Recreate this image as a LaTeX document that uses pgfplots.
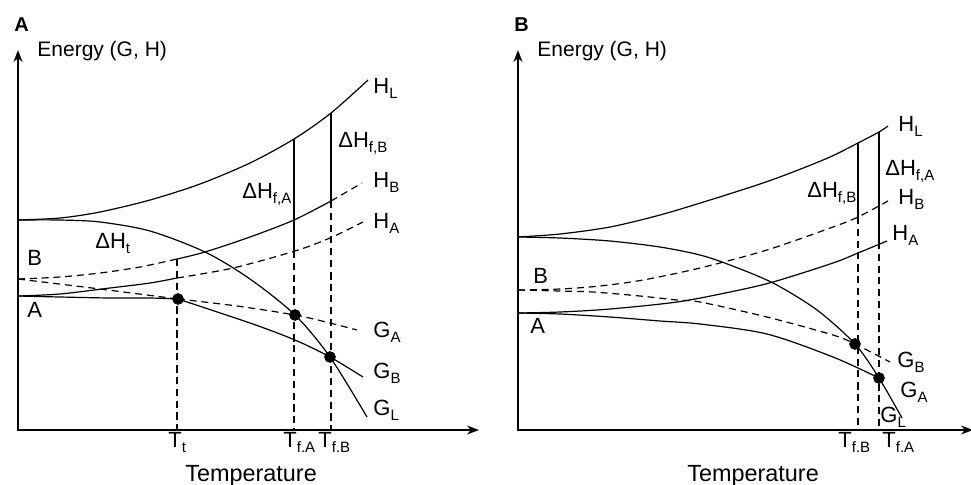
\documentclass[border=0pt]{standalone}
\usepackage{fontspec}
\setmainfont{Liberation Sans}
\usepackage{pgfplots}
\pgfplotsset{compat=1.18}
\usetikzlibrary{arrows.meta}
\newcommand{\sub}[1]{\raisebox{-0.45ex}{\fontsize{7.5}{8}\selectfont #1}}
\tikzset{lbl/.style={inner sep=0pt, anchor=base west}}
\begin{document}
\begin{tikzpicture}[font=\fontsize{11}{13}\selectfont]
\pgfplotsset{
  panel/.style={hide axis, clip=false, x=0.5pt, y=0.5pt, y dir=reverse, ymin=0, ymax=484, anchor=south west},
  curve/.style={black, line width=0.6pt, mark=none, smooth},
  dsh/.style={curve, dash pattern=on 3.5pt off 2.4pt},
  dot/.style={only marks, mark=*, mark size=2.7pt, black},
  ax/.style={black, line width=0.7pt, mark=none, {Stealth[length=6pt,width=4.5pt]}-{Stealth[length=6pt,width=4.5pt]}}
}
% ---------------- Panel A ----------------
\begin{axis}[panel, name=pa, at={(0pt,0pt)}, xmin=0, xmax=485.5]
\addplot[ax] coordinates {(18,50) (18,430) (479,430)};
% H_L
\addplot[curve] coordinates {(18,220) (60,218) (100,212) (150,200) (200,184) (250,163) (294,139) (331,113) (368,80)};
% G_L
\addplot[curve] coordinates {(18,220) (60,220) (100,222) (150,231) (205,252) (250,279) (295,315) (330,357) (367,417)};
% H_B
\addplot[dsh] coordinates {(18,279) (60,277) (100,273) (140,267) (177,259)};
\addplot[curve] coordinates {(177,259) (205,252) (250,237) (294,220) (331,201)};
\addplot[dsh] coordinates {(331,201) (362,183)};
% H_A
\addplot[curve] coordinates {(18,296) (60,294) (110,288) (150,283) (177,278)};
\addplot[dsh] coordinates {(177,278) (233,268) (295,251) (330,238) (363,222)};
% G_A
\addplot[curve] coordinates {(18,296) (60,297) (110,298) (150,298) (178,299)};
\addplot[dsh] coordinates {(178,299) (237,306) (295,315) (330,323) (357,330)};
% G_B
\addplot[dsh] coordinates {(18,279) (100,289) (178,299)};
\addplot[curve] coordinates {(178,299) (250,323) (295,340) (330,357) (363,377)};
% verticals
\addplot[dsh] coordinates {(177,259) (177,430)};
\addplot[curve] coordinates {(294,139) (294,251)};
\addplot[dsh] coordinates {(294,251) (294,430)};
\addplot[curve] coordinates {(331,113) (331,201)};
\addplot[dsh] coordinates {(331,201) (331,430)};
% dots
\addplot[dot] coordinates {(178,299) (295,315) (330,357)};
% labels
\node[lbl, font=\fontsize{10}{12}\selectfont\bfseries] at (14,31.5) {A};
\node[lbl, font=\fontsize{10.5}{12}\selectfont] at (37,56) {Energy (G, H)};
\node[lbl] at (373,93) {H\sub{L}};
\node[lbl] at (338,147) {ΔH\sub{f,B}};
\node[lbl] at (373,187) {H\sub{B}};
\node[lbl] at (242,198) {ΔH\sub{f,A}};
\node[lbl] at (373,228) {H\sub{A}};
\node[lbl] at (95,248) {ΔH\sub{t}};
\node[lbl] at (27,265) {B};
\node[lbl] at (27,317) {A};
\node[lbl] at (373,337) {G\sub{A}};
\node[lbl] at (373,378) {G\sub{B}};
\node[lbl] at (373,415) {G\sub{L}};
\node[lbl] at (168,447) {T\sub{t}};
\node[lbl] at (283,447) {T\sub{f.A}};
\node[lbl] at (318,447) {T\sub{f.B}};
\node[lbl, font=\fontsize{11.7}{14}\selectfont] at (185,481) {Temperature};
\end{axis}
% ---------------- Panel B ----------------
\begin{axis}[panel, name=pb, at={(242.75pt,0pt)}, xmin=485.5, xmax=971]
\addplot[ax] coordinates {(518,50) (518,430) (973,430)};
% H_L
\addplot[curve] coordinates {(518,237) (560,234) (610,227) (660,215) (710,200) (760,184) (793,172) (830,157) (858,143) (879,132) (888,126)};
% G_L
\addplot[curve] coordinates {(518,237) (560,238) (610,241) (660,247) (700,255) (730,265) (773,283) (817,310) (855,344) (879,378) (902,418)};
% H_B
\addplot[dsh] coordinates {(518,290) (560,289) (600,286) (643,280) (700,268) (767,250) (833,227) (858,217) (888,201)};
% H_A
\addplot[curve] coordinates {(518,313) (560,312) (610,309) (677,302) (730,292) (773,282) (833,263) (858,253) (887,241)};
% G_B
\addplot[dsh] coordinates {(518,290) (560,291) (593,292) (640,296) (677,300) (700,302) (767,317) (833,335) (855,344) (890,362)};
% G_A
\addplot[curve] coordinates {(518,313) (560,314) (610,317) (660,321) (700,324) (767,334) (833,357) (879,378)};
% verticals
\addplot[curve] coordinates {(858,143) (858,217)};
\addplot[dsh] coordinates {(858,217) (858,430)};
\addplot[curve] coordinates {(879,132) (879,242)};
\addplot[dsh] coordinates {(879,242) (879,430)};
% dots
\addplot[dot] coordinates {(855,344) (879,378)};
% labels
\node[lbl, font=\fontsize{10}{12}\selectfont\bfseries] at (514,31.5) {B};
\node[lbl, font=\fontsize{10.5}{12}\selectfont] at (537,56) {Energy (G, H)};
\node[lbl] at (898,131) {H\sub{L}};
\node[lbl] at (885,175) {ΔH\sub{f,A}};
\node[lbl] at (807,197) {ΔH\sub{f,B}};
\node[lbl] at (898,204) {H\sub{B}};
\node[lbl] at (892,240) {H\sub{A}};
\node[lbl] at (533,283) {B};
\node[lbl] at (530,333) {A};
\node[lbl] at (897,367) {G\sub{B}};
\node[lbl] at (900,397) {G\sub{A}};
\node[lbl] at (880,422) {G\sub{L}};
\node[lbl] at (838,447) {T\sub{f.B}};
\node[lbl] at (882,447) {T\sub{f.A}};
\node[lbl, font=\fontsize{11.7}{14}\selectfont] at (687,481) {Temperature};
\end{axis}
\pgfresetboundingbox
\useasboundingbox (pa.south west) rectangle (pb.north east);
\end{tikzpicture}
\end{document}
